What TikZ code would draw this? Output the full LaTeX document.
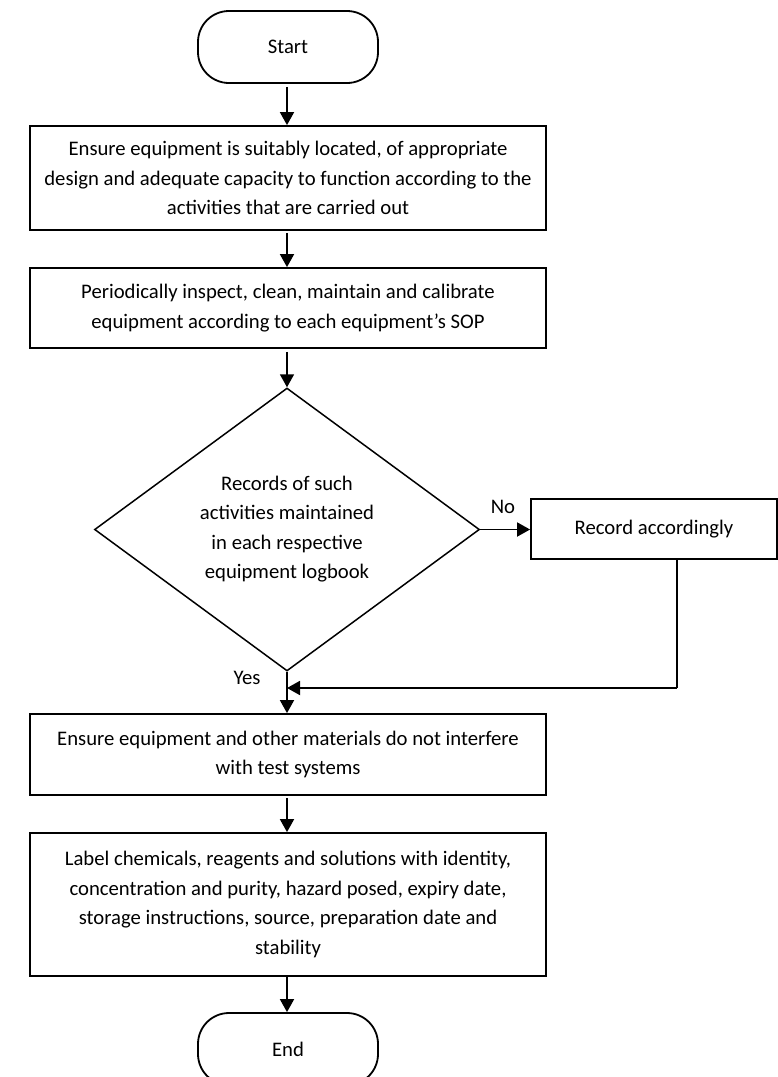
\documentclass[tikz,border=0pt]{standalone}
\usepackage{fontspec}
\setmainfont{Carlito}
\usetikzlibrary{arrows.meta,shapes.geometric,calc}
\begin{document}
\begin{tikzpicture}[x=1pt,y=-1pt,
  every node/.style={font=\fontsize{20.7}{29.5}\selectfont},
  box/.style={draw,line width=1.8pt,align=center,inner sep=0pt,minimum width=516pt},
  term/.style={draw,line width=1.8pt,rounded corners=31pt,inner sep=0pt,minimum width=180pt,minimum height=72pt},
  dec/.style={draw,diamond,line width=1.5pt,inner sep=0pt,minimum width=385pt,minimum height=283pt},
  txt/.style={align=center,inner sep=0pt},
  arr/.style={line width=1.8pt,-{Triangle[length=13pt,width=14pt]}},
  ln/.style={line width=1.8pt}]
\useasboundingbox (0,0) rectangle (778,1077);
\node[term] (start) at (288,47) {Start};
\node[box,minimum height=104pt] (b1) at (288,178) {Ensure equipment is suitably located, of appropriate\\design and adequate capacity to function according to the\\activities that are carried out};
\node[box,minimum height=80pt] (b2) at (288,308) {Periodically inspect, clean, maintain and calibrate\\equipment according to each equipment’s SOP};
\node[dec] (dia) at (287,529.5) {};
\node[txt] (diatext) at (287,529) {Records of such\\activities maintained\\in each respective\\equipment logbook};
\node[box,minimum width=246pt,minimum height=60pt] (rec) at (654,529) {Record accordingly};
\node[box,minimum height=81pt] (b3) at (288,754.5) {Ensure equipment and other materials do not interfere\\with test systems};
\node[box,minimum height=143pt] (b4) at (288,904.5) {Label chemicals, reagents and solutions with identity,\\concentration and purity, hazard posed, expiry date,\\storage instructions, source, preparation date and\\stability};
\node[term] (end) at (288,1049) {End};
\node (no) at (503,507) {No};
\node (yes) at (247,678) {Yes};
\coordinate (fb) at (677,688);
\draw[arr] (start.south -| dia.north) ++(0,3) -- (b1.north -| dia.north);
\draw[arr] (b1.south -| dia.north) ++(0,2) -- (b2.north -| dia.north);
\draw[arr] (b2.south -| dia.north) ++(0,3) -- (dia.north);
\draw[arr] (dia.east) -- (rec.west |- dia.east);
\draw[ln] (rec.south -| fb) -- (fb);
\draw[arr] (fb) -- (fb -| dia.south);
\draw[arr] (dia.south) -- (b3.north -| dia.south);
\draw[arr] (b3.south -| dia.north) ++(0,2) -- (b4.north -| dia.north);
\draw[arr] (b4.south -| dia.north) -- (end.north -| dia.north);
\end{tikzpicture}
\end{document}
